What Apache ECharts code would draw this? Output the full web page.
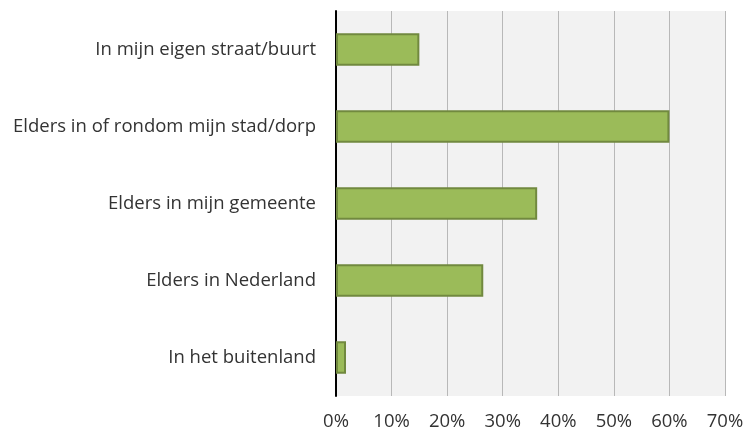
<!DOCTYPE html>
<html>
<head>
<meta charset="utf-8">
<script src="https://cdn.jsdelivr.net/npm/echarts@6/dist/echarts.min.js"></script>
<style>
html,body{margin:0;padding:0;background:#fff;}
#main{width:748px;height:432px;}
</style>
</head>
<body>
<div id="main"></div>
<script>
// categories listed bottom to top (category axis starts at bottom)
var categories = ['In het buitenland', 'Elders in Nederland', 'Elders in mijn gemeente', 'Elders in of rondom mijn stad/dorp', 'In mijn eigen straat/buurt'];
var values = [1.8, 26.5, 36.2, 60, 15];

var myChart = echarts.init(document.getElementById('main'));
var option = {
	animation: false,
	grid: {
		left: 336, right: 23, top: 11, bottom: 36,
		show: true, backgroundColor: '#f2f2f2', borderWidth: 0
	},
	xAxis: {
		type: 'value',
		min: 0, max: 70, interval: 10,
		axisLine: {show: false},
		axisTick: {show: false},
		splitLine: {lineStyle: {color: '#b8b8b8', width: 1}},
		axisLabel: {
			formatter: '{value}%',
			color: '#333', fontSize: 18.5, fontFamily: 'Open Sans', margin: 16
		}
	},
	yAxis: {
		type: 'category',
		data: categories,
		axisLine: {lineStyle: {color: '#000', width: 2}},
		axisTick: {show: false},
		axisLabel: {color: '#333', fontSize: 18.5, fontFamily: 'Open Sans', margin: 20}
	},
	series: [{
		type: 'bar',
		data: values,
		barWidth: '42%',
		itemStyle: {color: '#9bbb59', borderColor: '#71893f', borderWidth: 2}
	}]
};
myChart.setOption(option);
</script>
</body>
</html>
